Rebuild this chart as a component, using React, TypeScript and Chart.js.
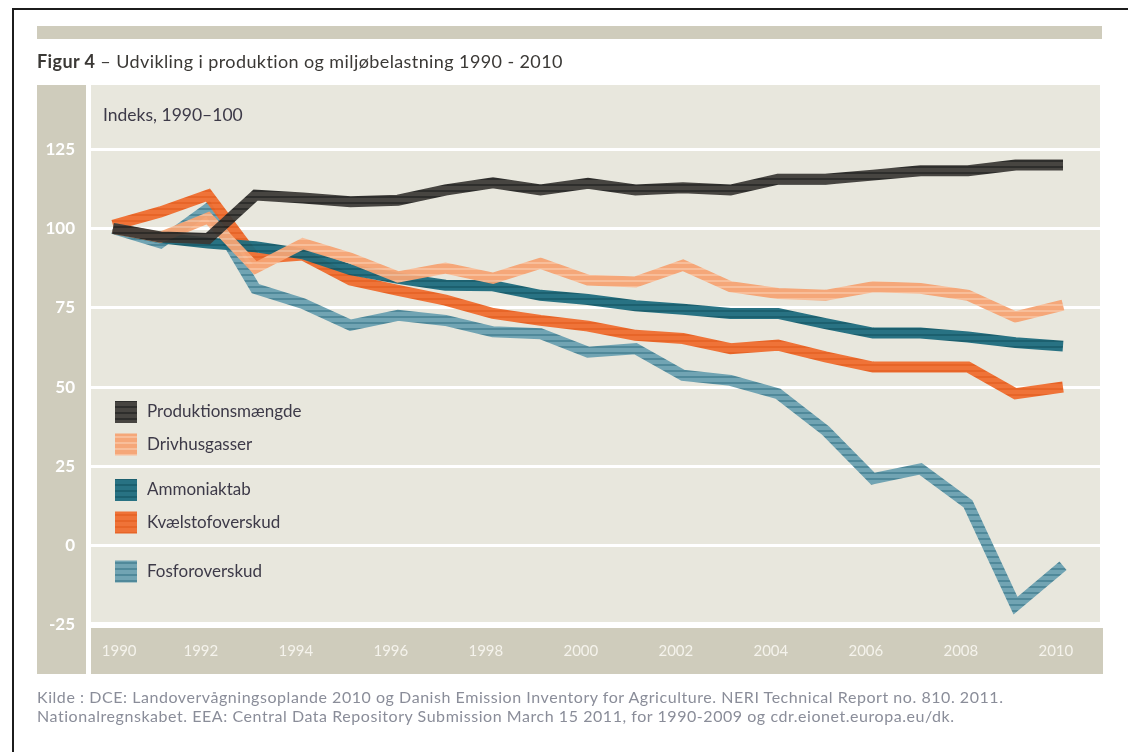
import React, { useEffect, useRef } from "react";
import { Chart, registerables } from "chart.js";

Chart.register(...registerables);

// ---------- data ----------
const years = [1990, 1991, 1992, 1993, 1994, 1995, 1996, 1997, 1998, 1999, 2000, 2001, 2002, 2003, 2004, 2005, 2006, 2007, 2008, 2009, 2010];
const xTickYears = [1990, 1992, 1994, 1996, 1998, 2000, 2002, 2004, 2006, 2008, 2010];
const yTickValues = [-25, 0, 25, 50, 75, 100, 125];

const produktionsmaengde = [100, 97.3, 96.8, 110.5, 109.6, 108.4, 108.9, 112.1, 114.4, 112.1, 114.2, 112.1, 112.8, 112.1, 115.5, 115.5, 116.8, 118.2, 118.2, 120, 120];
const drivhusgasser = [100, 97.2, 103.3, 87.5, 95.2, 90.6, 84.7, 87.5, 84.3, 89, 83.7, 83.1, 88.4, 81.6, 79.5, 78.9, 81.6, 81.1, 78.9, 72.1, 75.8];
const ammoniaktab = [100, 97, 95.4, 94.2, 92, 87, 84.3, 82.1, 81.9, 78.9, 77.6, 75.6, 74.5, 73.2, 73.2, 70, 67, 67, 65.8, 64, 62.9];
const kvaelstofoverskud = [101, 105.2, 110.5, 90.5, 91.6, 83.7, 80.5, 77.4, 73.2, 71, 69.2, 66.3, 65.3, 62.1, 63.2, 59.5, 56.3, 56.3, 56.3, 47.9, 50];
const fosforoverskud = [100, 95.4, 106.3, 81, 76.3, 69.5, 72.6, 71, 67.4, 66.8, 61, 62.1, 53.7, 52.1, 47.9, 36.3, 21.1, 24.2, 13.2, -18.9, -6.3];

const seriesNames = ["Produktionsmængde", "Drivhusgasser", "Ammoniaktab", "Kvælstofoverskud", "Fosforoverskud"];
const seriesValues = [produktionsmaengde, drivhusgasser, ammoniaktab, kvaelstofoverskud, fosforoverskud];
const seriesBase = ["rgba(58,56,53,0.93)", "rgba(245,163,115,0.95)", "rgba(29,108,125,0.95)", "rgba(239,109,46,0.95)", "rgba(106,160,176,0.95)"];
const seriesStripe = ["rgba(36,36,34,0.95)", "rgba(249,188,150,0.95)", "rgba(17,88,104,0.95)", "rgba(231,94,30,0.95)", "rgba(72,132,150,0.95)"];

const yAxisLabel = "Indeks, 1990–100";

export default function App() {
  const ref = useRef<HTMLCanvasElement | null>(null);

  useEffect(() => {
    const canvas = ref.current;
    if (!canvas) return;
    const mainCtx = canvas.getContext("2d")!;

    const makePattern = (base: string, stripe: string) => {
      const c = document.createElement("canvas");
      c.width = 4;
      c.height = 6;
      const g = c.getContext("2d")!;
      g.clearRect(0, 0, 4, 6);
      g.fillStyle = base;
      g.fillRect(0, 0, 4, 4);
      g.fillStyle = stripe;
      g.fillRect(0, 4, 4, 2);
      return mainCtx.createPattern(c, "repeat")!;
    };
    const patterns = seriesBase.map((b, i) => makePattern(b, seriesStripe[i]));

    const bgPlugin = {
      id: "panelBg",
      beforeDraw(chart: any) {
        const { ctx, chartArea } = chart;
        const { left, right, top, bottom } = chartArea;
        ctx.save();
        ctx.fillStyle = "#ffffff";
        ctx.fillRect(0, 0, chart.width, chart.height);
        // outer frame
        ctx.fillStyle = "#1c1c1c";
        ctx.fillRect(12, 8, 2, chart.height);
        ctx.fillRect(12, 8, chart.width, 2);
        // top band
        ctx.fillStyle = "#cfccbc";
        ctx.fillRect(left - 54, 26, right + 2 - (left - 54), 13);
        // y strip
        ctx.fillRect(left - 54, top, 49, bottom + 49 - top);
        // x strip
        ctx.fillRect(left, bottom + 3, right + 3 - left, 46);
        // plot bg
        ctx.fillStyle = "#e8e7dd";
        ctx.fillRect(left, top, right - left, bottom - top);
        ctx.restore();
      },
    };

    const legendPlugin = {
      id: "customLegend",
      afterDraw(chart: any) {
        const { ctx, chartArea } = chart;
        const { left, top } = chartArea;
        ctx.save();
        ctx.fillStyle = "#3d3a48";
        ctx.font = "17.5px Lato";
        ctx.textBaseline = "middle";
        ctx.textAlign = "left";
        ctx.fillText(yAxisLabel, left + 12, top + 30);
        ctx.font = "17px Lato";
        const offsets = [327, 359.5, 405, 437.5, 486.5];
        seriesNames.forEach((name, i) => {
          const cy = top + offsets[i];
          ctx.fillStyle = patterns[i];
          ctx.fillRect(left + 24, cy - 11, 22, 22);
          ctx.fillStyle = "#3d3a48";
          ctx.fillText(name, left + 56, cy);
        });
        ctx.restore();
      },
    };

    const datasets = seriesNames.map((name, i) => ({
      label: name,
      data: years.map((yr, j) => ({ x: yr, y: seriesValues[i][j] })),
      borderColor: patterns[i],
      backgroundColor: patterns[i],
      borderWidth: 11,
      borderCapStyle: "butt" as const,
      borderJoinStyle: "miter" as const,
      pointRadius: 0,
      tension: 0,
      fill: false,
    }));

    const chart = new Chart(canvas, {
      type: "line",
      data: { datasets },
      options: {
        responsive: false,
        animation: false,
        devicePixelRatio: 1,
        layout: { padding: { left: 37, right: 28, top: 85, bottom: 78 } },
        plugins: {
          legend: { display: false },
          tooltip: { enabled: false },
          title: { display: false },
        },
        scales: {
          x: {
            type: "linear",
            min: 1989.537,
            max: 2010.779,
            afterBuildTicks: (s: any) => {
              // label centres sit slightly off the data years in the original layout
              s.ticks = xTickYears.map((v) => ({ value: v === xTickYears[0] ? v + 0.13 : v - 0.15 }));
            },
            afterFit: (s: any) => {
              s.height = 49;
              s.paddingLeft = 0;
              s.paddingRight = 0;
            },
            grid: { display: false, drawTicks: false },
            border: { display: false },
            ticks: {
              color: "#f5f3ec",
              font: { family: "Lato", size: 15 },
              padding: 17,
              maxRotation: 0,
              autoSkip: false,
              callback: (v: any) => String(Math.round(Number(v))),
            },
          },
          y: {
            type: "linear",
            min: -25,
            max: 145.2,
            afterBuildTicks: (s: any) => {
              s.ticks = yTickValues.map((v) => ({ value: v }));
            },
            afterFit: (s: any) => {
              s.width = 54;
              s.paddingTop = 0;
              s.paddingBottom = 0;
            },
            grid: {
              color: "#ffffff",
              lineWidth: (c: any) => (c.tick && c.tick.value === -25 ? 6 : 3),
              drawTicks: false,
            },
            border: { display: false },
            ticks: {
              color: "#ffffff",
              font: { family: "Lato", size: 17, weight: "bold" },
              padding: 16,
              callback: (v: any) => String(v),
            },
          },
        },
      },
      plugins: [bgPlugin, legendPlugin],
    });

    return () => chart.destroy();
  }, []);

  return (
    <div style={{ position: "absolute", left: 0, top: 0, width: 1128, height: 752, overflow: "hidden", background: "#fff" }}>
      <canvas ref={ref} width={1128} height={752} style={{ position: "absolute", left: 0, top: 0, width: 1128, height: 752 }} />
      <div
        style={{
          position: "absolute",
          left: 37,
          top: 50,
          fontFamily: "Lato",
          fontSize: 18,
          letterSpacing: "0.4px",
          lineHeight: "23px",
          color: "#3b3936",
          whiteSpace: "nowrap",
        }}
      >
        <b>Figur 4</b> – Udvikling i produktion og miljøbelastning 1990 - 2010
      </div>
      <div
        style={{
          position: "absolute",
          left: 37,
          top: 687,
          fontFamily: "Lato",
          fontSize: 16,
          letterSpacing: "0.55px",
          lineHeight: "19px",
          color: "#8a8d99",
          whiteSpace: "nowrap",
        }}
      >
        <div>Kilde : DCE: Landovervågningsoplande 2010 og Danish Emission Inventory for Agriculture. NERI Technical Report no. 810. 2011.</div>
        <div>Nationalregnskabet. EEA: Central Data Repository Submission March 15 2011, for 1990-2009 og cdr.eionet.europa.eu/dk.</div>
      </div>
    </div>
  );
}
